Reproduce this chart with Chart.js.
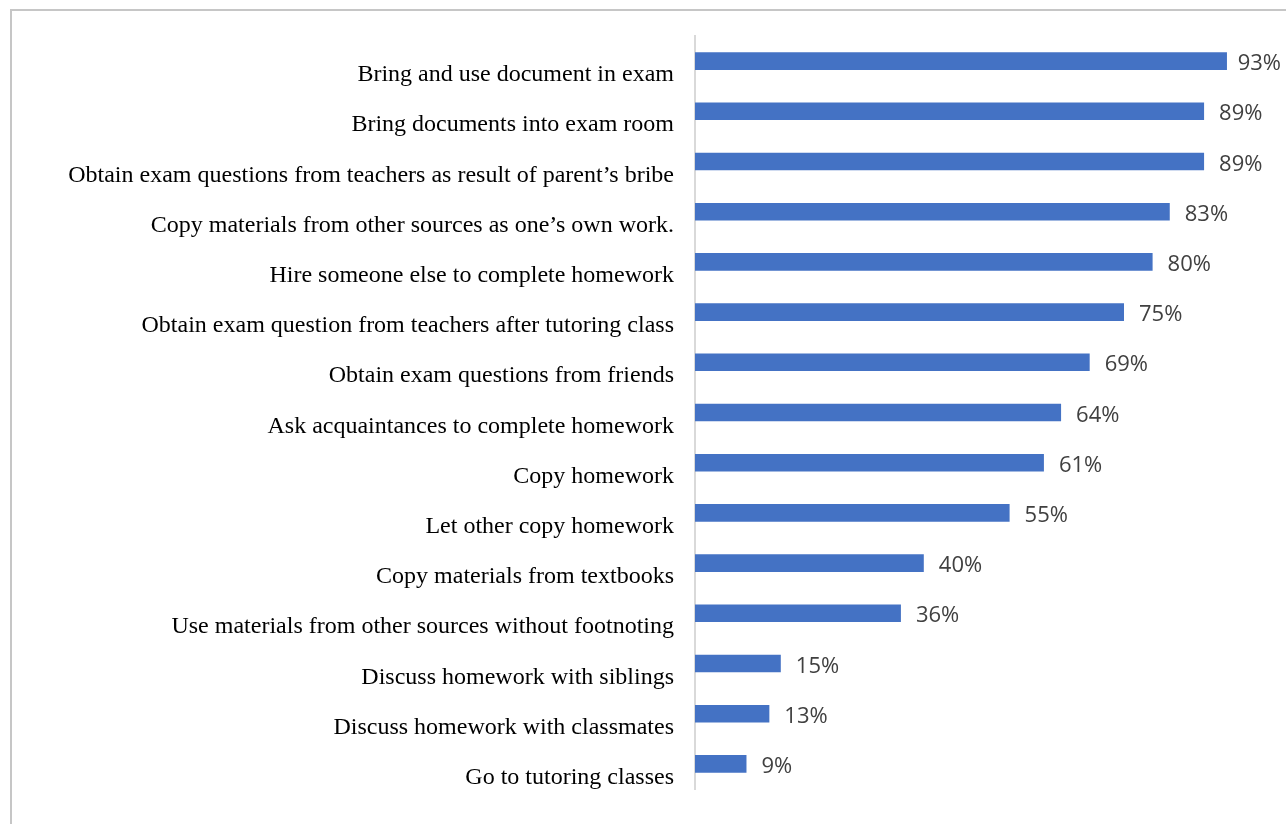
<!DOCTYPE html>
<html>
<head>
<meta charset="utf-8">
<script src="https://cdn.jsdelivr.net/npm/chart.js@4"></script>
<style>
  html, body { margin: 0; padding: 0; background: #fff; }
  #wrap { position: relative; width: 1286px; height: 824px; overflow: hidden; }
  #frame {
    position: absolute; left: 10px; top: 9px; width: 1300px; height: 840px;
    border-left: 2px solid #c6c6c6; border-top: 2px solid #c6c6c6;
  }
  #chart { position: absolute; left: 0; top: 0; }
</style>
</head>
<body>
<div id="wrap">
  <div id="frame"></div>
  <canvas id="chart" width="1286" height="824"></canvas>
</div>
<script>
// --- chart data ---
const categories = [
    'Bring and use document in exam',
    'Bring documents into exam room',
    'Obtain exam questions from teachers as result of parent\u2019s bribe',
    'Copy materials from other sources as one\u2019s own work.',
    'Hire someone else to complete homework',
    'Obtain exam question from teachers after tutoring class',
    'Obtain exam questions from friends',
    'Ask acquaintances to complete homework',
    'Copy homework',
    'Let other copy homework',
    'Copy materials from textbooks',
    'Use materials from other sources without footnoting',
    'Discuss homework with siblings',
    'Discuss homework with classmates',
    'Go to tutoring classes'
];
const percentValues = [93, 89, 89, 83, 80, 75, 69, 64, 61, 55, 40, 36, 15, 13, 9];

const barColor = '#4472C4';

// category labels sit a bit below the bar, like the original Excel chart
const categoryLabels = {
    id: 'categoryLabels',
    afterDraw(chart) {
        const ctx = chart.ctx;
        const yScale = chart.scales.y;
        ctx.save();
        ctx.font = '24px "Liberation Serif", "Times New Roman", serif';
        ctx.fillStyle = '#000';
        ctx.textAlign = 'right';
        ctx.textBaseline = 'alphabetic';
        categories.forEach((label, i) => {
            ctx.fillText(label, 674, yScale.getPixelForValue(i) + 20);
        });
        ctx.restore();
    }
};

// value labels at the bar ends (pulled back in if they would run off the edge)
const valueLabels = {
    id: 'valueLabels',
    afterDatasetsDraw(chart) {
        const ctx = chart.ctx;
        const meta = chart.getDatasetMeta(0);
        ctx.save();
        ctx.font = '22px "Open Sans", sans-serif';
        ctx.fillStyle = '#404040';
        ctx.textAlign = 'left';
        ctx.textBaseline = 'alphabetic';
        meta.data.forEach((bar, i) => {
            const txt = percentValues[i] + '%';
            const w = ctx.measureText(txt).width;
            const x = Math.min(bar.x + 15, chart.width - 5 - w);
            ctx.fillText(txt, x, bar.y + 9);
        });
        ctx.restore();
    }
};

new Chart(document.getElementById('chart'), {
    type: 'bar',
    data: {
        labels: categories,
        datasets: [{
            data: percentValues,
            backgroundColor: barColor,
            borderWidth: 0,
            barPercentage: 0.7,
            categoryPercentage: 0.5
        }]
    },
    options: {
        indexAxis: 'y',
        responsive: false,
        animation: false,
        events: [],
        layout: {
            padding: { left: 687, right: 19, top: 36, bottom: 35 }
        },
        scales: {
            x: {
                display: false,
                min: 0,
                max: 100
            },
            y: {
                display: true,
                ticks: { display: false },
                grid: { display: false },
                border: { display: true, color: '#d9d9d9', width: 2 }
            }
        },
        plugins: {
            legend: { display: false },
            tooltip: { enabled: false }
        }
    },
    plugins: [categoryLabels, valueLabels]
});
</script>
</body>
</html>
